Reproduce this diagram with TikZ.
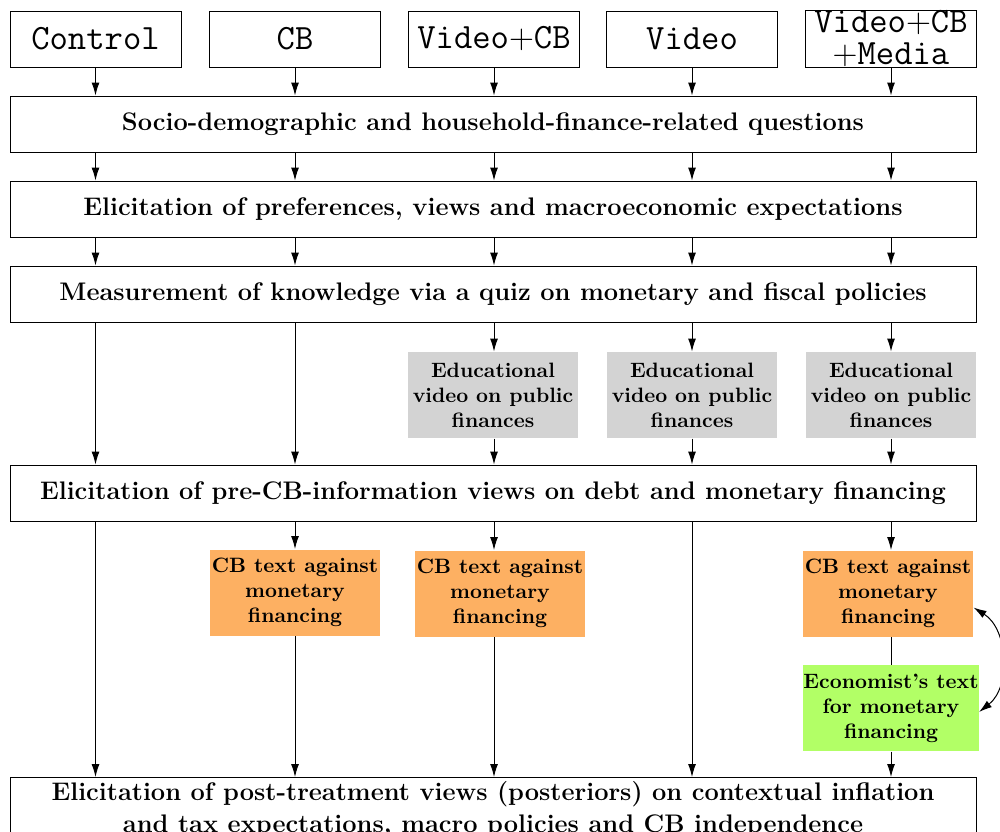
\documentclass[tikz,border=0pt]{standalone}
\usetikzlibrary{arrows.meta}
\definecolor{vidgray}{RGB}{211,211,211}
\definecolor{cborange}{RGB}{253,176,98}
\definecolor{ecogreen}{RGB}{178,255,102}
\begin{document}
\begin{tikzpicture}[x=0.5pt,y=-0.5pt,line width=0.5pt,
        arm/.style={draw,minimum width=85.5pt,minimum height=28pt,inner sep=0pt,
            align=center,font=\fontsize{17.8}{16}\selectfont\ttfamily},
        stage/.style={draw,minimum width=483pt,minimum height=28pt,inner sep=0pt,
            align=center,font=\fontsize{12.7}{16}\selectfont\bfseries},
        treat/.style={minimum width=85pt,minimum height=43pt,inner sep=0pt,
            align=center,font=\fontsize{10.4}{12.5}\selectfont\bfseries},
        arr/.style={-{Latex[length=6.5pt,width=4pt]}}]
        \useasboundingbox (0,0) rectangle (1000,831);
        \clip (0,0) rectangle (1000,831);

        % Treatment arms
        \node[arm] (c1) at (95.5,39) {Control};
        \node[arm] (c2) at (295,39) {CB};
        \node[arm] (c3) at (494,39) {Video$+$CB};
        \node[arm] (c4) at (692,39) {Video};
        \node[arm] (c5) at (891,39) {Video$+$CB\\$+$Media};

        % Survey stages
        \node[stage] (soc) at (493,124) {Socio-demographic and household-finance-related questions};
        \node[stage] (pref) at (493,209) {Elicitation of preferences, views and macroeconomic expectations};
        \node[stage] (quiz) at (493,294) {Measurement of knowledge via a quiz on monetary and fiscal policies};
        \node[stage] (pre) at (493,493) {Elicitation of pre-CB-information views on debt and monetary financing};
        \node[stage,anchor=north,inner ysep=2pt,minimum height=0pt] (post) at (493,777)
            {Elicitation of post-treatment views (posteriors) on contextual inflation\\
             and tax expectations, macro policies and CB independence};

        % Video treatment
        \foreach \i/\x in {3/493,4/692,5/891} {
            \node[treat,fill=vidgray] (v\i) at (\x,395) {Educational\\video on public\\finances};
        }

        % CB and economist texts
        \node[treat,fill=cborange] (o2) at (295,592.5) {CB text against\\monetary\\financing};
        \node[treat,fill=cborange] (o3) at (500,593.5) {CB text against\\monetary\\financing};
        \node[treat,fill=cborange] (o5) at (888,593.5) {CB text against\\monetary\\financing};
        \node[treat,fill=ecogreen] (g5) at (891,708) {Economist's text\\for monetary\\financing};

        % Arrows through the common stages
        \foreach \i in {1,...,5} {
            \draw[arr] (c\i.south) -- (c\i.south |- soc.north);
            \draw[arr] (c\i |- soc.south) -- (c\i |- pref.north);
            \draw[arr] (c\i |- pref.south) -- (c\i |- quiz.north);
        }
        \foreach \i in {1,2} {
            \draw[arr] (c\i |- quiz.south) -- (c\i |- pre.north);
        }
        \foreach \i in {3,4,5} {
            \draw[arr] (c\i |- quiz.south) -- (c\i |- v\i.north);
            \draw[arr] (c\i |- v\i.south) -- (c\i |- pre.north);
        }

        % Arrows after the pre-CB stage
        \foreach \i in {1,4} {
            \draw[arr] (c\i |- pre.south) -- (c\i |- post.north);
        }
        \foreach \i in {2,3,5} {
            \draw[arr] (c\i |- pre.south) -- (c\i |- o\i.north);
        }
        \foreach \i in {2,3} {
            \draw[arr] (c\i |- o\i.south) -- (c\i |- post.north);
        }
        \draw (c5 |- o5.south) -- (c5 |- g5.north);
        \draw[arr] (c5 |- g5.south) -- (c5 |- post.north);
        \draw[{Latex[length=6.5pt,width=4pt]}-{Latex[length=6.5pt,width=4pt]}]
            ([yshift=-7pt]o5.east) to[bend left=55] ([yshift=-2pt]g5.east);
\end{tikzpicture}
\end{document}
